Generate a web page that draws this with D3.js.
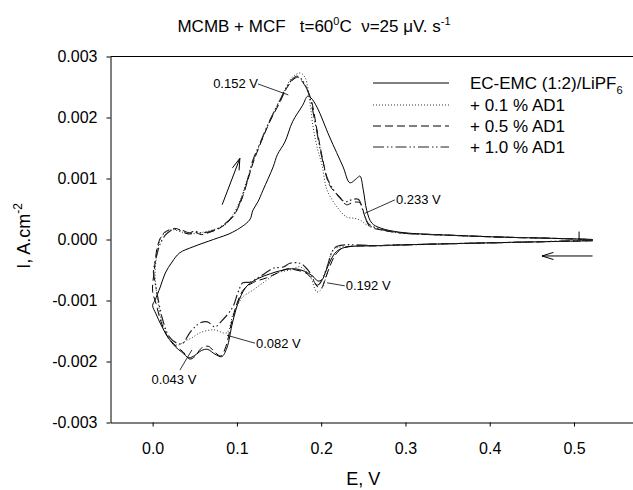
<!DOCTYPE html>
<html>
<head>
<meta charset="utf-8">
<script src="https://cdn.jsdelivr.net/npm/d3@7"></script>
<style>
  body { margin: 0; background: #fff; }
  svg { font-family: "Liberation Sans", Arial, sans-serif; }
</style>
</head>
<body>
<div id="chart"></div>
<script>
// cyclic voltammograms, [E (V), I (A/cm2)], cathodic sweep then anodic sweep
var baseCurve = [
  [0.522,-0.00002],[0.45,-0.00004],[0.35,-0.00007],[0.27,-0.0001],[0.228,-0.00013],[0.218,-0.0002],
  [0.212,-0.00032],[0.206,-0.0005],[0.201,-0.00066],[0.196,-0.00068],[0.19,-0.0006],[0.18,-0.00052],
  [0.168,-0.00048],[0.155,-0.0005],[0.14,-0.00056],[0.125,-0.00064],[0.112,-0.00076],[0.103,-0.00098],
  [0.095,-0.00135],[0.088,-0.00178],[0.082,-0.00192],[0.074,-0.00188],[0.065,-0.0018],[0.058,-0.00182],
  [0.05,-0.0019],[0.043,-0.00194],[0.035,-0.00185],[0.027,-0.00176],[0.018,-0.0016],[0.01,-0.0014],
  [0.004,-0.00122],[0.0,-0.00108],
  [0.003,-0.00099],[0.009,-0.00078],[0.015,-0.00055],[0.023,-0.00037],[0.032,-0.00022],[0.048,-0.00012],
  [0.072,0.0],[0.095,0.00012],[0.115,0.00032],[0.119,0.00048],[0.125,0.00062],[0.131,0.00081],
  [0.143,0.00119],[0.148,0.00139],[0.157,0.0016],[0.166,0.00193],[0.178,0.0022],[0.184,0.00235],
  [0.188,0.00232],[0.195,0.00217],[0.21,0.00168],[0.226,0.00119],[0.234,0.00093],[0.242,0.001],
  [0.246,0.00104],[0.25,0.00081],[0.254,0.00048],[0.26,0.00027],[0.27,0.00019],[0.293,0.00012],
  [0.353,0.00007],[0.412,0.00004],[0.472,0.00002],[0.522,0.0]
];
var ad01Curve = [
  [0.522,-0.00002],[0.45,-0.00004],[0.35,-0.00007],[0.27,-0.0001],[0.22,-0.00013],[0.214,-0.00017],
  [0.208,-0.00042],[0.202,-0.00078],[0.195,-0.00086],[0.187,-0.00061],[0.175,-0.00045],[0.163,-0.0005],
  [0.148,-0.00055],[0.131,-0.00071],[0.119,-0.00083],[0.107,-0.00094],[0.101,-0.00107],[0.095,-0.00124],
  [0.088,-0.00153],[0.072,-0.00148],[0.056,-0.00153],[0.048,-0.0016],[0.041,-0.00165],[0.029,-0.00173],
  [0.021,-0.00165],[0.012,-0.0014],[0.006,-0.00099],[0.003,-0.00058],
  [0.005,-0.00025],[0.009,0.0],[0.015,0.00011],[0.023,0.00016],[0.035,0.00012],[0.044,0.00009],
  [0.056,0.00011],[0.072,0.00016],[0.086,0.00024],[0.095,0.0004],[0.104,0.00065],[0.112,0.00098],
  [0.121,0.00134],[0.137,0.00188],[0.149,0.00224],[0.157,0.00245],[0.165,0.00265],[0.175,0.00273],
  [0.181,0.00265],[0.187,0.0022],[0.19,0.00188],[0.195,0.00152],[0.201,0.00122],[0.207,0.00081],
  [0.219,0.00053],[0.23,0.00037],[0.238,0.00035],[0.246,0.00032],[0.254,0.00024],[0.27,0.00017],
  [0.293,0.00011],[0.353,0.00007],[0.412,0.00004],[0.472,0.00002],[0.522,0.0]
];
var ad05Curve = [
  [0.522,-0.00002],[0.45,-0.00004],[0.35,-0.00007],[0.27,-0.0001],[0.226,-0.00014],[0.217,-0.00025],
  [0.21,-0.00045],[0.204,-0.00068],[0.2,-0.0008],[0.196,-0.00078],[0.19,-0.00066],[0.182,-0.00055],
  [0.17,-0.0005],[0.16,-0.00048],[0.148,-0.00055],[0.135,-0.00063],[0.12,-0.0007],[0.108,-0.00082],
  [0.1,-0.00105],[0.093,-0.0014],[0.087,-0.00175],[0.081,-0.00191],[0.074,-0.00185],[0.066,-0.00175],
  [0.058,-0.00178],[0.05,-0.00192],[0.044,-0.00196],[0.036,-0.00184],[0.028,-0.00175],[0.018,-0.0016],
  [0.01,-0.00135],[0.004,-0.00105],[0.0,-0.00085],
  [0.002,-0.0005],[0.006,-0.0001],[0.012,0.00009],[0.02,0.00016],[0.028,0.00018],[0.036,0.00012],
  [0.044,0.00009],[0.05,0.00012],[0.058,0.00008],[0.068,0.00012],[0.08,0.00019],[0.095,0.00037],
  [0.104,0.0006],[0.112,0.00093],[0.119,0.00125],[0.125,0.00147],[0.139,0.00193],[0.151,0.00225],
  [0.159,0.00248],[0.166,0.00261],[0.172,0.00266],[0.178,0.00258],[0.187,0.00234],[0.195,0.0018],
  [0.202,0.0013],[0.21,0.00089],[0.222,0.0007],[0.23,0.00057],[0.238,0.00061],[0.246,0.0006],
  [0.252,0.00037],[0.258,0.00021],[0.27,0.00016],[0.293,0.00011],[0.353,0.00007],[0.412,0.00004],
  [0.472,0.00002],[0.522,0.0]
];
var ad10Curve = [
  [0.522,-0.00001],[0.45,-0.00004],[0.35,-0.00007],[0.27,-0.0001],[0.219,-0.00011],[0.213,-0.0002],
  [0.207,-0.00045],[0.199,-0.00071],[0.195,-0.00075],[0.187,-0.00055],[0.181,-0.00045],[0.175,-0.00039],
  [0.163,-0.00039],[0.155,-0.00045],[0.143,-0.00047],[0.136,-0.00053],[0.127,-0.00061],[0.115,-0.0007],
  [0.107,-0.00071],[0.101,-0.00088],[0.095,-0.00111],[0.083,-0.00132],[0.074,-0.00143],[0.065,-0.00135],
  [0.056,-0.00137],[0.044,-0.00153],[0.036,-0.0017],[0.029,-0.0017],[0.02,-0.0016],[0.012,-0.00132],
  [0.006,-0.00094],[0.003,-0.00071],[0.001,-0.00053],
  [0.005,-0.00025],[0.009,-0.00007],[0.015,0.00007],[0.021,0.00014],[0.028,0.00017],[0.035,0.00015],
  [0.044,0.00011],[0.05,0.00014],[0.056,0.00011],[0.068,0.00013],[0.08,0.0002],[0.095,0.00038],
  [0.104,0.00062],[0.112,0.00095],[0.119,0.0013],[0.125,0.0015],[0.139,0.00195],[0.151,0.00228],
  [0.159,0.0025],[0.166,0.00263],[0.171,0.00268],[0.177,0.00262],[0.185,0.0024],[0.193,0.0019],
  [0.2,0.0014],[0.208,0.00098],[0.218,0.00075],[0.228,0.00062],[0.236,0.00065],[0.244,0.00066],
  [0.25,0.00045],[0.256,0.00026],[0.268,0.00018],[0.293,0.00011],[0.353,0.00007],[0.412,0.00004],
  [0.472,0.00002],[0.522,0.0]
];

var seriesNames = ["EC-EMC (1:2)/LiPF", "+ 0.1 % AD1", "+ 0.5 % AD1", "+ 1.0 % AD1"];
var xTicks = [0.0, 0.1, 0.2, 0.3, 0.4, 0.5];
var xTickLabels = ["0.0", "0.1", "0.2", "0.3", "0.4", "0.5"];
var yTicks = [-0.003, -0.002, -0.001, 0.0, 0.001, 0.002, 0.003];
var yTickLabels = ["-0.003", "-0.002", "-0.001", "0.000", "0.001", "0.002", "0.003"];

// peak labels: [text, leader start E, I, leader end E, I]
var peakNotes = [
  ["0.152 V", 0.125, 0.00255, 0.161, 0.00237],
  ["0.233 V", 0.2875, 0.00065, 0.252, 0.00043],
  ["0.192 V", 0.228, -0.00076, 0.207, -0.00071],
  ["0.082 V", 0.1214, -0.0017, 0.0882, -0.00157],
  ["0.043 V", 0.0324, -0.00214, 0.0466, -0.00181]
];

var svgWidth = 633;
var svgHeight = 490;

var svg = d3.select("#chart").append("svg")
  .attr("width", svgWidth)
  .attr("height", svgHeight);

var x = d3.scaleLinear().domain([-0.05, 0.57]).range([110.5, 633]);
var y = d3.scaleLinear().domain([-0.003, 0.003]).range([422.5, 56.5]);

// axes
var xAxis = d3.axisBottom(x)
  .tickValues(xTicks)
  .tickFormat(function(d, i) { return xTickLabels[i]; })
  .tickSize(4).tickSizeOuter(0).tickPadding(16);
var yAxis = d3.axisLeft(y)
  .tickValues(yTicks)
  .tickFormat(function(d, i) { return yTickLabels[i]; })
  .tickSize(4).tickSizeOuter(0).tickPadding(9);

var gx = svg.append("g").attr("transform", "translate(0," + y(-0.003) + ")").call(xAxis);
var gy = svg.append("g").attr("transform", "translate(" + x(-0.05) + ",0)").call(yAxis);
[gx, gy].forEach(function(g) {
  g.selectAll("text").style("font-size", "16px").style("font-family", "'Liberation Sans', Arial, sans-serif").attr("fill", "#000");
  g.selectAll("line,path").attr("stroke", "#000");
});

// top frame line
svg.append("line")
  .attr("x1", x(-0.05)).attr("x2", 633)
  .attr("y1", y(0.003)).attr("y2", y(0.003))
  .attr("stroke", "#000");

// curves
var line = d3.line()
  .x(function(d) { return x(d[0]); })
  .y(function(d) { return y(d[1]); })
  .curve(d3.curveCatmullRom.alpha(0.5));

var styles = [
  { dash: null, color: "#000", w: 1 },
  { dash: "1,2", color: "#333", w: 1 },
  { dash: "8,4", color: "#000", w: 1 },
  { dash: "11,3,1.5,2.5,1.5,3", color: "#222", w: 1.2 }
];
var curves = [baseCurve, ad01Curve, ad05Curve, ad10Curve];

curves.forEach(function(c, i) {
  svg.append("path")
    .datum(c)
    .attr("d", line)
    .attr("fill", "none")
    .attr("stroke", styles[i].color)
    .attr("stroke-width", styles[i].w)
    .attr("stroke-dasharray", styles[i].dash);
});

// small spike near reversal
svg.append("line")
  .attr("x1", x(0.506)).attr("x2", x(0.506))
  .attr("y1", y(0.0)).attr("y2", y(0.00013))
  .attr("stroke", "#000");

// sweep direction arrows
function arrow(e1, i1, e2, i2) {
  var x1 = x(e1), y1 = y(i1), x2 = x(e2), y2 = y(i2);
  var a = Math.atan2(y2 - y1, x2 - x1);
  var len = 12, spread = 0.3;
  svg.append("path")
    .attr("d", "M" + x1 + "," + y1 + "L" + x2 + "," + y2 +
      "M" + (x2 - len * Math.cos(a - spread)) + "," + (y2 - len * Math.sin(a - spread)) +
      "L" + x2 + "," + y2 +
      "L" + (x2 - len * Math.cos(a + spread)) + "," + (y2 - len * Math.sin(a + spread)))
    .attr("fill", "none")
    .attr("stroke", "#000")
    .attr("stroke-width", 1);
}
arrow(0.0825, 0.00057, 0.1035, 0.00133);
arrow(0.522, -0.00027, 0.462, -0.00027);

// peak annotations
peakNotes.forEach(function(n) {
  svg.append("line")
    .attr("x1", x(n[1])).attr("y1", y(n[2]))
    .attr("x2", x(n[3])).attr("y2", y(n[4]))
    .attr("stroke", "#000").attr("stroke-width", 0.8);
  var t = svg.append("text")
    .style("font-size", "13px")
    .text(n[0]);
  if (n[0] === "0.152 V") {
    t.attr("x", x(n[1])).attr("y", y(n[2]) + 4.5).attr("text-anchor", "end");
  } else if (n[0] === "0.043 V") {
    t.attr("x", x(n[1]) - 6).attr("y", y(n[2]) + 14).attr("text-anchor", "middle");
  } else {
    t.attr("x", x(n[1]) + 1).attr("y", y(n[2]) + 4.5).attr("text-anchor", "start");
  }
});

// legend
var legend = svg.append("g");
var legendY = [83, 105, 126, 147];
seriesNames.forEach(function(name, i) {
  legend.append("line")
    .attr("x1", 373).attr("x2", 449)
    .attr("y1", legendY[i]).attr("y2", legendY[i])
    .attr("stroke", styles[i].color)
    .attr("stroke-width", styles[i].w)
    .attr("stroke-dasharray", styles[i].dash);
  var t = legend.append("text")
    .attr("x", 470).attr("y", legendY[i] + 6)
    .style("font-size", "17px")
    .text(name);
  if (i === 0) {
    t.append("tspan").attr("dy", 5).style("font-size", "11px").text("6");
  }
});

// title
var title = svg.append("text")
  .attr("x", 314).attr("y", 32)
  .attr("text-anchor", "middle")
  .style("font-size", "17px")
  .style("white-space", "pre");
title.append("tspan").text("MCMB + MCF   t=60");
title.append("tspan").attr("dy", -7).style("font-size", "11px").text("0");
title.append("tspan").attr("dy", 7).text("C  \u03bd=25 \u03bcV. s");
title.append("tspan").attr("dy", -7).style("font-size", "11px").text("-1");

// axis titles
svg.append("text")
  .attr("x", x(0.25)).attr("y", 485)
  .attr("text-anchor", "middle")
  .style("font-size", "18px")
  .text("E, V");

var yt = svg.append("text")
  .attr("transform", "translate(30,236) rotate(-90)")
  .attr("text-anchor", "middle")
  .style("font-size", "18px");
yt.append("tspan").text("I, A.cm");
yt.append("tspan").attr("dy", -8).style("font-size", "12px").text("-2");
</script>
</body>
</html>
